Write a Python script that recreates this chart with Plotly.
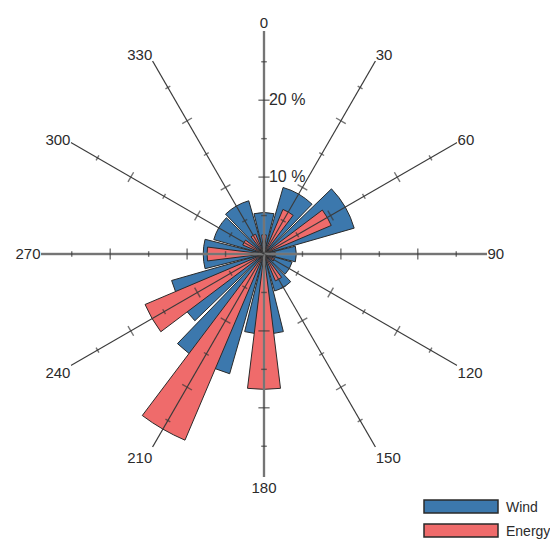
import plotly.graph_objects as go

# ---- data ----
directions = [0, 30, 60, 90, 120, 150, 180, 210, 240, 270, 300, 330]
direction_labels = ["0", "30", "60", "90", "120", "150", "180", "210", "240", "270", "300", "330"]
wind = [5.4, 9.0, 12.2, 4.2, 3.8, 5.0, 10.4, 16.2, 12.5, 7.9, 6.8, 7.2]
energy = [2.5, 6.3, 9.5, 1.5, 1.5, 3.8, 17.6, 26.3, 16.8, 7.4, 3.0, 2.8]
radial_ticks = [5, 10, 15, 20, 25]
radial_labels = [" 10 %", " 20 %"]
radial_label_vals = [10, 20]
r_max = 29

BLUE = "#3c78ad"
RED = "#ef6b6b"
EDGE = "#2a2a2a"
GRID = "#3a3a3a"
FONT = "Liberation Sans"

fig = go.Figure()
fig.add_trace(go.Barpolar(
    r=wind, theta=directions, width=28, name="Wind",
    marker=dict(color=BLUE, line=dict(color=EDGE, width=1)),
))
fig.add_trace(go.Barpolar(
    r=energy, theta=directions, width=14, name="Energy",
    marker=dict(color=RED, line=dict(color=EDGE, width=1)),
))

# spokes drawn over the bars
for d in directions:
    cardinal = d % 90 == 0
    fig.add_trace(go.Scatterpolar(
        r=[0, r_max], theta=[d, d], mode="lines", showlegend=False, hoverinfo="skip",
        line=dict(color="#8a8a8a" if cardinal else GRID, width=2.4 if cardinal else 1.1),
    ))
    if cardinal:
        fig.add_trace(go.Scatterpolar(
            r=[0, r_max], theta=[d, d], mode="lines", showlegend=False, hoverinfo="skip",
            line=dict(color="#555555", width=0.8),
        ))

# tick marks along every spoke
tr, tt, ts, ta = [], [], [], []
for d in directions:
    for rv in radial_ticks:
        tr.append(rv)
        tt.append(d)
        ts.append(8 if rv % 10 == 0 else 4)
        ta.append(d)
fig.add_trace(go.Scatterpolar(
    r=tr, theta=tt, mode="markers", showlegend=False, hoverinfo="skip",
    marker=dict(symbol="line-ew", size=ts, angle=ta,
                color=GRID, line=dict(color=GRID, width=1.4)),
))

R = 223
cx, cy = 256, 246
W, H = 558, 540
fig.update_layout(
    width=W, height=H,
    margin=dict(l=0, r=0, t=0, b=0),
    paper_bgcolor="white",
    showlegend=False,
    font=dict(family=FONT, color="#333333"),
    polar=dict(
        domain=dict(x=[(cx - R) / W, (cx + R) / W],
                    y=[(H - cy - R) / H, (H - cy + R) / H]),
        bgcolor="white",
        barmode="overlay",
        angularaxis=dict(
            rotation=90, direction="clockwise",
            tickmode="array", tickvals=directions, ticktext=direction_labels,
            showline=False, showgrid=False,
            ticks="", tickfont=dict(size=15, color="#2b2b2b"),
        ),
        radialaxis=dict(
            range=[0, r_max], angle=90, tickangle=90,
            tickmode="array", tickvals=radial_label_vals, ticktext=radial_labels,
            showgrid=False, showline=False, ticks="",
            tickfont=dict(size=16, color="#2b2b2b"),
            layer="above traces",
        ),
    ),
)

# custom legend (wide swatches as in the reference)
legend_items = [("Wind", BLUE), ("Energy", RED)]
for i, (name, col) in enumerate(legend_items):
    y0 = 492 + i * 24
    fig.add_shape(type="rect", xref="paper", yref="paper",
                  x0=416 / W, x1=490 / W, y0=1 - (y0 + 13) / H, y1=1 - y0 / H,
                  fillcolor=col, line=dict(color=EDGE, width=1.5))
    fig.add_annotation(text=name, xref="paper", yref="paper",
                       x=496 / W, y=1 - (y0 + 6.5) / H, xanchor="left", yanchor="middle",
                       showarrow=False, font=dict(size=14, color="#2b2b2b", family=FONT))

fig.write_html("out.html")
